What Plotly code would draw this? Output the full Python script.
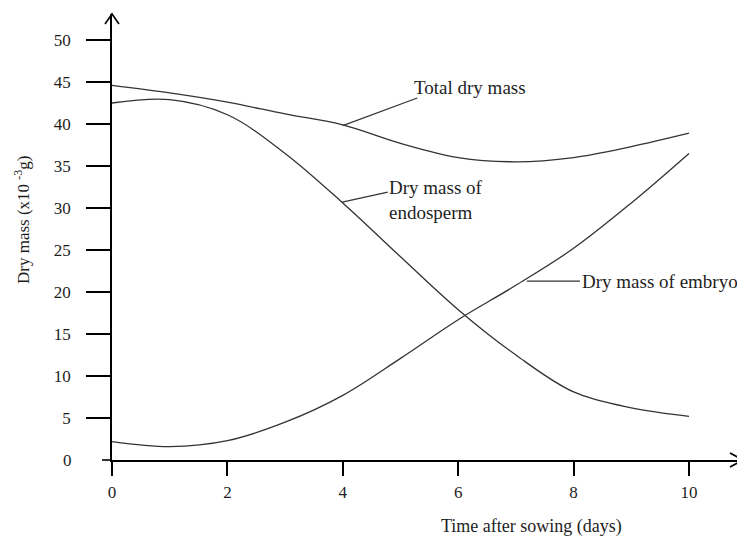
import plotly.graph_objects as go

# ---- data ----
days = [0, 1, 2, 3, 4, 5, 6, 7, 8, 9, 10]
total_dry_mass = [44.6, 43.7, 42.6, 41.2, 39.9, 37.7, 36.0, 35.5, 36.0, 37.3, 38.9]
endosperm_dry_mass = [42.5, 42.9, 41.1, 36.5, 30.6, 24.2, 17.9, 12.5, 8.1, 6.2, 5.2]
embryo_dry_mass = [2.2, 1.6, 2.3, 4.5, 7.7, 12.1, 16.7, 20.8, 25.2, 30.6, 36.5]

x_ticks = [0, 2, 4, 6, 8, 10]
y_ticks = [5, 10, 15, 20, 25, 30, 35, 40, 45, 50]

# ---- layout geometry (page pixels) ----
W, H = 745, 536
OFF = 8                      # default page body margin
AX_X, AX_Y = 112, 460        # page pixel of the origin
RIGHT, TOP = 743, 14         # page pixel of plot area right / top
PX_PER_DAY = 57.7
PX_PER_UNIT = 8.4

FW, FH = W - OFF, H - OFF
ML, MT = AX_X - OFF, TOP - OFF
MR = W - RIGHT
MB = H - AX_Y
PW, PH = FW - ML - MR, FH - MT - MB
X_MAX = PW / PX_PER_DAY
Y_MAX = PH / PX_PER_UNIT


def px(xp):
    return (xp - AX_X) / PW


def py(yp):
    return (AX_Y - yp) / PH


FONT = "Liberation Serif"
TXT = "#1e1e1e"
LINE = "#333333"

fig = go.Figure()
for ys in (total_dry_mass, endosperm_dry_mass, embryo_dry_mass):
    fig.add_trace(go.Scatter(
        x=days, y=ys, mode="lines",
        line=dict(color=LINE, width=1.3, shape="spline", smoothing=1.0),
        showlegend=False, hoverinfo="skip",
    ))

shapes = []
# x axis extension to the left of the y axis
shapes.append(dict(type="line", xref="paper", yref="paper",
                   x0=px(102), x1=0, y0=0, y1=0,
                   line=dict(color="black", width=1.6)))
# arrow heads (open chevrons)
shapes.append(dict(type="path", xref="paper", yref="paper",
                   path=f"M {px(105)},{py(24)} L 0,1 L {px(119)},{py(24)}",
                   line=dict(color="black", width=1.6)))
shapes.append(dict(type="path", xref="paper", yref="paper",
                   path=f"M {px(730)},{py(453)} L 1,0 L {px(730)},{py(467)}",
                   line=dict(color="black", width=1.6)))
# leader lines for labels (data coordinates)
shapes.append(dict(type="line", xref="x", yref="y", x0=4.0, y0=39.8, x1=5.29, y1=43.1,
                   line=dict(color=LINE, width=1.2)))
shapes.append(dict(type="line", xref="x", yref="y", x0=3.99, y0=30.7, x1=4.78, y1=31.9,
                   line=dict(color=LINE, width=1.2)))
shapes.append(dict(type="line", xref="x", yref="y", x0=7.19, y0=21.3, x1=8.11, y1=21.3,
                   line=dict(color=LINE, width=1.2)))

annotations = [
    dict(x=5.2, y=44.4, xref="x", yref="y", text="Total dry mass", showarrow=False,
         xanchor="left", yanchor="middle", font=dict(family=FONT, size=19, color=TXT)),
    dict(x=4.76, y=31.0, xref="x", yref="y", text="Dry mass of<br>endosperm", showarrow=False,
         xanchor="left", yanchor="middle", align="left",
         font=dict(family=FONT, size=19, color=TXT)),
    dict(x=8.11, y=21.3, xref="x", yref="y", text="Dry mass of embryo", showarrow=False,
         xanchor="left", yanchor="middle", font=dict(family=FONT, size=19, color=TXT)),
    # zero label on the y axis
    dict(x=0, y=0, xref="paper", yref="y", text="0", showarrow=False,
         xanchor="right", yanchor="middle", xshift=-38,
         font=dict(family=FONT, size=17, color=TXT)),
    # axis titles
    dict(x=px(531), y=py(526), xref="paper", yref="paper", text="Time after sowing (days)",
         showarrow=False, xanchor="center", yanchor="middle",
         font=dict(family=FONT, size=18, color=TXT)),
    dict(x=px(22), y=py(220), xref="paper", yref="paper",
         text="Dry mass (x10 <sup>-3</sup>g)", textangle=-90,
         showarrow=False, xanchor="center", yanchor="middle",
         font=dict(family=FONT, size=17, color=TXT)),
]

fig.update_layout(
    width=FW, height=FH,
    margin=dict(l=ML, r=MR, t=MT, b=MB, pad=0),
    paper_bgcolor="white", plot_bgcolor="white",
    shapes=shapes, annotations=annotations,
    xaxis=dict(range=[0, X_MAX], tickvals=x_ticks, ticktext=[str(v) for v in x_ticks],
               showgrid=False, zeroline=False, showline=True, linecolor="black", linewidth=1.6,
               ticks="outside", ticklen=14, tickwidth=1.6, tickcolor="black",
               ticklabelstandoff=2,
               tickfont=dict(family=FONT, size=17, color=TXT), fixedrange=True),
    yaxis=dict(range=[0, Y_MAX], tickvals=y_ticks, ticktext=[str(v) for v in y_ticks],
               showgrid=False, zeroline=False, showline=True, linecolor="black", linewidth=1.6,
               ticks="outside", ticklen=24, tickwidth=1.6, tickcolor="black",
               ticklabelstandoff=12,
               tickfont=dict(family=FONT, size=17, color=TXT), fixedrange=True),
)

fig.write_html("out.html")
